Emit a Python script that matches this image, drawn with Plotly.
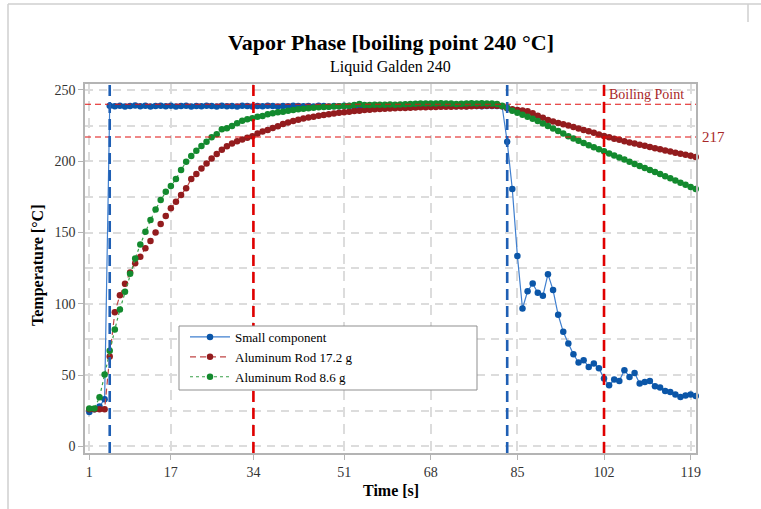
import plotly.graph_objects as go

# ---------------- data ----------------
time_s = list(range(1, 121))

small_component = [
    24, 26, 28, 33, 239.0, 238.6, 238.9, 238.5, 238.8, 239.1,
    238.6, 238.9, 238.4, 238.8, 239.0, 238.6, 238.9, 238.5, 238.8, 239.0,
    238.5, 238.8, 238.6, 239.0, 238.7, 238.5, 238.9, 238.6, 238.8, 238.5,
    238.9, 238.7, 238.5, 238.8, 238.6, 238.9, 238.7, 238.5, 238.8, 238.6,
    238.9, 238.7, 238.6, 238.8, 238.5, 238.9, 238.7, 238.5, 238.8, 238.6,
    238.9, 238.7, 238.5, 238.8, 238.6, 238.9, 238.7, 238.6, 238.8, 238.5,
    238.9, 238.7, 238.6, 238.8, 238.6, 238.9, 238.7, 238.5, 238.8, 238.6,
    238.9, 238.7, 238.6, 238.8, 238.6, 238.9, 238.7, 238.6, 238.8, 238.7,
    238.8, 238.6, 213.7, 180.5, 133.6, 96.7, 108.8, 114.2, 107.7, 105.6,
    120.8, 109.6, 92.3, 80.3, 72.1, 64.6, 58.8, 60.4, 55.7, 58.1,
    54.8, 47.5, 42.8, 46.8, 45.9, 53.4, 48.7, 51.5, 44.0, 45.2,
    45.9, 42.1, 41.2, 38.8, 38.1, 36.3, 34.6, 35.6, 36.3, 35.3,
]

rod_17_2g = [
    26, 26, 26, 26, 63, 94, 106, 114, 122, 128.5,
    133, 139, 144, 150, 156, 161.5, 167, 171.6, 176.3, 181,
    187.5, 191, 195, 198.5, 202, 205, 208, 210.5, 212.5, 214,
    215.3, 216.4, 217.5, 219.5, 220.8, 222, 223.4, 224.6, 226.2, 227.2,
    228.2, 229.2, 230, 230.7, 231.3, 231.9, 232.5, 233, 233.5, 234,
    234.4, 234.8, 235.2, 235.5, 235.9, 236.2, 236.4, 236.6, 236.8, 237,
    237.1, 237.3, 237.4, 237.5, 237.7, 237.8, 237.9, 238, 238.1, 238.2,
    238.2, 238.3, 238.4, 238.4, 238.5, 238.6, 238.7, 238.8, 238.9, 239,
    239, 238.6, 237.2, 236.5, 236, 235.6, 235, 233.6, 232, 230.5,
    229, 227.9, 226.9, 225.9, 225, 224, 223, 222, 221, 220,
    218.8, 217.7, 216.8, 215.8, 215, 214.1, 213.2, 212.4, 211.6, 210.8,
    210, 209.2, 208.4, 207.6, 206.8, 206, 205.3, 204.6, 203.8, 203,
]

rod_8_6g = [
    26.5, 26.5, 34.5, 50.3, 67, 82, 96, 108.4, 121, 131.8,
    141.6, 150.5, 158.7, 166.2, 172.8, 178.6, 182.6, 187.5, 193.8, 199.7,
    203.7, 207.4, 210.7, 213.7, 216.8, 218.9, 222.4, 223.1, 224.7, 226.6,
    228.5, 229.4, 230.1, 231.3, 231.7, 232.9, 233.6, 234.3, 234.8, 235.5,
    236, 236.4, 236.9, 237.1, 237.6, 237.8, 238, 238.3, 238.4, 238.6,
    238.8, 239, 239.5, 240.2, 239.4, 239.5, 239.6, 239.7, 239.6, 239.8,
    239.7, 239.9, 240, 240.2, 240.4, 240.5, 240.6, 240.6, 240.5, 240.7,
    240.6, 240.5, 240.2, 240.4, 240.6, 240.7, 240.6, 240.7, 240.6, 240.5,
    240.2, 239, 237.5, 235.5, 234, 232.6, 231.2, 229.8, 228.2, 226.5,
    224.8, 223, 221.2, 219.4, 217.6, 216, 214.4, 212.8, 211.3, 209.8,
    208.4, 207, 205.4, 204, 202.6, 201.2, 199.6, 198, 196.6, 195.2,
    193.8, 192.4, 191, 189.5, 188, 186.5, 185, 183.5, 182, 180.5,
]

series_names = ["Small component", "Aluminum Rod 17.2 g", "Aluminum Rod 8.6 g"]

x_tick_vals = [1, 17, 33.2, 51, 68, 85, 102, 119]
x_tick_text = ["1", "17", "34", "51", "68", "85", "102", "119"]
y_tick_vals = [0, 50, 100, 150, 200, 250]

boiling_point = 240
ref_temp = 217
blue_marks = [5, 83]
red_marks = [33.2, 102]

title_text = "Vapor Phase [boiling point 240 °C]"
subtitle_text = "Liquid Galden 240"

# ---------------- figure ----------------
SERIF = "Liberation Serif, Times New Roman, serif"
fig = go.Figure()

fig.add_trace(go.Scatter(
    x=time_s, y=small_component, name=series_names[0], mode="lines+markers",
    line=dict(color="#3f7fcf", width=1.2, dash="solid"),
    marker=dict(color="#0b56a8", size=6.5), cliponaxis=False))
fig.add_trace(go.Scatter(
    x=time_s, y=rod_17_2g, name=series_names[1], mode="lines+markers",
    line=dict(color="#c04545", width=1.2, dash="6px,4px"),
    marker=dict(color="#931c1e", size=6.5), cliponaxis=False))
fig.add_trace(go.Scatter(
    x=time_s, y=rod_8_6g, name=series_names[2], mode="lines+markers",
    line=dict(color="#3aa04a", width=1.2, dash="3px,3px"),
    marker=dict(color="#138a2e", size=6.5), cliponaxis=False))

shapes = []
for yv in [boiling_point, ref_temp]:
    shapes.append(dict(type="line", xref="paper", yref="y", x0=0, x1=1, y0=yv, y1=yv,
                       line=dict(color="#e01010", width=1.2, dash="6px,4px"), layer="above"))
for xv in blue_marks:
    shapes.append(dict(type="line", xref="x", yref="paper", x0=xv, x1=xv, y0=0, y1=1,
                       line=dict(color="#1f5fb4", width=2.6, dash="11px,6px"), layer="above"))
for xv in red_marks:
    shapes.append(dict(type="line", xref="x", yref="paper", x0=xv, x1=xv, y0=0, y1=1,
                       line=dict(color="#e00000", width=2.6, dash="11px,6px"), layer="above"))

# legend box (pixel geometry converted to paper)
L, R, T, B = 85, 696, 84, 453
pw, ph = R - L, B - T
def px(xp):
    return (xp - L) / pw
def py(yp):
    return (B - yp) / ph

shapes.append(dict(type="rect", xref="paper", yref="paper",
                   x0=px(179), x1=px(477), y0=py(390), y1=py(326),
                   line=dict(color="#8f8f8f", width=1), fillcolor="white", layer="above"))
# outer frame lines
shapes.append(dict(type="line", xref="paper", yref="paper", x0=px(8), x1=px(761), y0=py(4), y1=py(4),
                   line=dict(color="#cfcfcf", width=1.5)))
shapes.append(dict(type="line", xref="paper", yref="paper", x0=px(8), x1=px(8), y0=py(4), y1=py(509),
                   line=dict(color="#cfcfcf", width=1.5)))
shapes.append(dict(type="line", xref="paper", yref="paper", x0=px(748), x1=px(748), y0=py(4), y1=py(22),
                   line=dict(color="#cfcfcf", width=1.5)))

annotations = [
    dict(text="<b>" + title_text + "</b>", xref="paper", yref="paper", x=0.5, y=py(42),
         xanchor="center", yanchor="middle", showarrow=False,
         font=dict(family=SERIF, size=22, color="black")),
    dict(text=subtitle_text, xref="paper", yref="paper", x=0.5, y=py(67),
         xanchor="center", yanchor="middle", showarrow=False,
         font=dict(family=SERIF, size=16, color="black")),
    dict(text="<b>Temperature [°C]</b>", xref="paper", yref="paper", x=px(38), y=py(266),
         xanchor="center", yanchor="middle", textangle=-90, showarrow=False,
         font=dict(family=SERIF, size=16, color="black")),
    dict(text="<b>Time [s]</b>", xref="paper", yref="paper", x=0.5, y=py(490),
         xanchor="center", yanchor="middle", showarrow=False,
         font=dict(family=SERIF, size=16, color="black")),
    dict(text="Boiling Point", xref="x", yref="y", x=red_marks[1], y=boiling_point,
         xanchor="left", yanchor="bottom", xshift=3, yshift=0, showarrow=False,
         font=dict(family=SERIF, size=14, color="#a82828")),
    dict(text=str(ref_temp), xref="paper", yref="y", x=1, y=ref_temp,
         xanchor="left", yanchor="middle", xshift=4, showarrow=False,
         font=dict(family=SERIF, size=15, color="#a82828")),
]

fig.update_layout(
    width=761, height=509,
    margin=dict(l=L, r=761 - R, t=T, b=509 - B, pad=0),
    paper_bgcolor="white", plot_bgcolor="white",
    font=dict(family=SERIF, size=14, color="#333333"),
    showlegend=True,
    legend=dict(x=px(185), y=py(322), xanchor="left", yanchor="top",
                bgcolor="rgba(0,0,0,0)", borderwidth=0,
                font=dict(family=SERIF, size=13, color="black"),
                itemwidth=40, tracegroupgap=0),
    shapes=shapes, annotations=annotations,
    xaxis=dict(range=[0.15, 120.05], tickvals=x_tick_vals, ticktext=x_tick_text,
               showgrid=True, gridcolor="#dcdcdc", griddash="10px,7px", gridwidth=2,
               zeroline=False, showline=True, linecolor="#b4b4b4", linewidth=1.5, mirror=True,
               ticks="outside", ticklen=5, tickcolor="#b4b4b4",
               tickfont=dict(family=SERIF, size=14, color="#333333")),
    yaxis=dict(range=[-4.7, 254.2], tickvals=y_tick_vals,
               showgrid=True, gridcolor="#dcdcdc", griddash="8px,6px", gridwidth=1.5,
               minor=dict(dtick=25, tick0=0, showgrid=True, gridcolor="#dcdcdc",
                          griddash="8px,6px", gridwidth=1.5),
               zeroline=False, showline=True, linecolor="#b4b4b4", linewidth=1.5, mirror=True,
               ticks="outside", ticklen=5, tickcolor="#b4b4b4",
               tickfont=dict(family=SERIF, size=14, color="#333333")),
)

fig.write_html("out.html")
